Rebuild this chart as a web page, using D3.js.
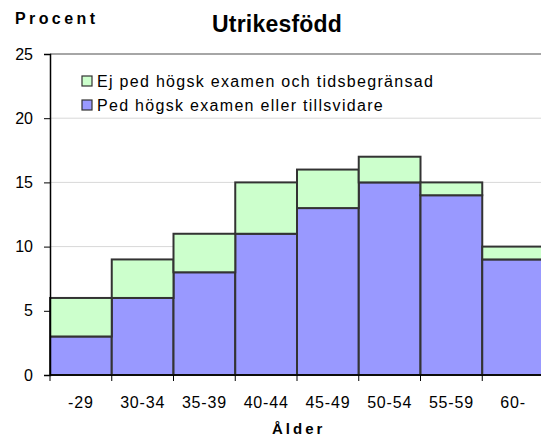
<!DOCTYPE html>
<html>
<head>
<meta charset="utf-8">
<script src="https://cdn.jsdelivr.net/npm/d3@7"></script>
<style>
  body { margin: 0; background: #fff; }
  text { font-family: "Liberation Sans", Arial, sans-serif; fill: #000; }
</style>
</head>
<body>
<div id="vis"></div>
<script>
// data
var ageGroups = ['-29', '30-34', '35-39', '40-44', '45-49', '50-54', '55-59', '60-'];
var pedValues = [3, 6, 8, 11, 13, 15, 14, 9];   // Ped högsk examen eller tillsvidare
var ejValues = [3, 3, 3, 4, 3, 2, 1, 1];        // Ej ped högsk examen och tidsbegränsad
var yTicks = [0, 5, 10, 15, 20, 25];
var seriesNames = ['Ej ped högsk examen och tidsbegränsad', 'Ped högsk examen eller tillsvidare'];
var seriesColors = ['#ccffcc', '#9999ff'];

var width = 541;
var height = 439;
var margin = { left: 50, top: 54, right: -3, bottom: 64 };

var svg = d3.select('#vis').append('svg')
  .attr('width', width)
  .attr('height', height);

var x = d3.scaleBand()
  .domain(ageGroups)
  .range([margin.left, width - margin.right])
  .padding(0);

var y = d3.scaleLinear()
  .domain([0, 25])
  .range([height - margin.bottom, margin.top]);

// gridlines
svg.append('g').selectAll('line')
  .data(yTicks.filter(function (d) { return d > 0 && d < 25; }))
  .enter().append('line')
  .attr('x1', margin.left).attr('x2', width)
  .attr('y1', function (d) { return y(d); })
  .attr('y2', function (d) { return y(d); })
  .attr('stroke', '#d8d8d8')
  .attr('stroke-width', 1);

// top border of plot area
svg.append('line')
  .attr('x1', margin.left).attr('x2', width)
  .attr('y1', y(25)).attr('y2', y(25))
  .attr('stroke', '#888')
  .attr('stroke-width', 1.5);

// stacked bars
var stackData = ageGroups.map(function (g, i) {
  return { group: g, ped: pedValues[i], ej: ejValues[i] };
});
var stack = d3.stack().keys(['ped', 'ej'])(stackData);
var colorFor = { ped: seriesColors[1], ej: seriesColors[0] };

svg.append('g').selectAll('g')
  .data(stack)
  .enter().append('g')
  .attr('fill', function (s) { return colorFor[s.key]; })
  .selectAll('rect')
  .data(function (s) { return s; })
  .enter().append('rect')
  .attr('x', function (d) { return x(d.data.group); })
  .attr('width', x.bandwidth())
  .attr('y', function (d) { return y(d[1]); })
  .attr('height', function (d) { return y(d[0]) - y(d[1]); })
  .attr('stroke', '#333')
  .attr('stroke-width', 2);

// y axis
var yAxis = d3.axisLeft(y).tickValues(yTicks).tickSize(6).tickPadding(11);
var yg = svg.append('g')
  .attr('transform', 'translate(' + margin.left + ',0)')
  .call(yAxis);
yg.select('.domain').attr('stroke', '#000').attr('stroke-width', 1.5);
yg.selectAll('.tick line').attr('stroke', '#000');
yg.selectAll('.tick text')
  .style('font-size', '16px')
  .style('font-family', '"Liberation Sans", Arial, sans-serif');

// x axis
var xTickPos = d3.range(ageGroups.length + 1).map(function (i) {
  return margin.left + i * x.bandwidth();
});
var xg = svg.append('g');
xg.append('line')
  .attr('x1', margin.left).attr('x2', width)
  .attr('y1', y(0)).attr('y2', y(0))
  .attr('stroke', '#000').attr('stroke-width', 1.5);
xg.selectAll('.xtick')
  .data(xTickPos)
  .enter().append('line')
  .attr('class', 'xtick')
  .attr('x1', function (d) { return d; })
  .attr('x2', function (d) { return d; })
  .attr('y1', y(0)).attr('y2', y(0) + 6)
  .attr('stroke', '#000');
xg.selectAll('.xlabel')
  .data(ageGroups)
  .enter().append('text')
  .attr('class', 'xlabel')
  .attr('x', function (d) { return x(d) + x.bandwidth() / 2; })
  .attr('y', 408)
  .attr('text-anchor', 'middle')
  .style('font-size', '16px')
  .style('letter-spacing', '0.8px')
  .text(function (d) { return d; });

// titles
svg.append('text')
  .attr('x', 277).attr('y', 31.5)
  .attr('text-anchor', 'middle')
  .style('font-size', '23px')
  .style('font-weight', 'bold')
  .style('letter-spacing', '0.2px')
  .text('Utrikesfödd');

svg.append('text')
  .attr('x', 15).attr('y', 24)
  .style('font-size', '16px')
  .style('font-weight', 'bold')
  .style('letter-spacing', '3.4px')
  .text('Procent');

svg.append('text')
  .attr('x', 272).attr('y', 434)
  .style('font-size', '15px')
  .style('font-weight', 'bold')
  .style('letter-spacing', '3px')
  .text('Ålder');

// legend
var legend = svg.append('g').selectAll('g')
  .data(seriesNames)
  .enter().append('g')
  .attr('transform', function (d, i) { return 'translate(82,' + (76 + i * 24) + ')'; });
legend.append('rect')
  .attr('width', 10).attr('height', 10)
  .attr('fill', function (d, i) { return seriesColors[i]; })
  .attr('stroke', '#333')
  .attr('stroke-width', 1.2);
legend.append('text')
  .attr('x', 15).attr('y', 11)
  .style('font-size', '16px')
  .style('letter-spacing', '1.3px')
  .text(function (d) { return d; });
</script>
</body>
</html>
